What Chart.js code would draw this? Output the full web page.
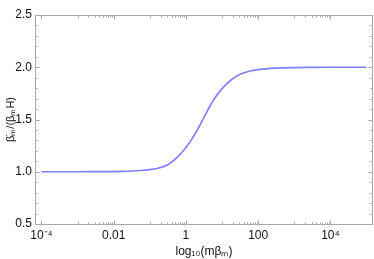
<!DOCTYPE html>
<html><head><meta charset="utf-8">
<script src="https://cdn.jsdelivr.net/npm/chart.js@4"></script>
<style>html,body{margin:0;padding:0;background:#fff}#wrap{width:374px;height:259px;position:relative}</style>
</head><body><div id="wrap"><canvas id="c"></canvas></div>
<script>
// x positions as log10(m beta_m)
const log10MBeta = [-4, -3.5, -3, -2.5, -2, -1.75, -1.5, -1.25, -1, -0.75, -0.5, -0.25, 0, 0.25, 0.5, 0.75, 1, 1.25, 1.5, 1.75, 2, 2.5, 3, 3.5, 4, 5];
// ratio betaDot_m / (beta_m H)
const ratio = [1.000, 1.000, 1.000, 1.001, 1.002, 1.004, 1.007, 1.012, 1.021, 1.036, 1.068, 1.135, 1.232, 1.36, 1.52, 1.68, 1.795, 1.878, 1.932, 1.962, 1.978, 1.992, 1.997, 1.999, 2.000, 2.000];
const xTickValues = [1e-4, 1e-2, 1, 100, 1e4];
const xTickLabels = ['10\u207B\u2074', '0.01', '1', '100', '10\u2074'];
const yTickValues = [0.5, 1.0, 1.5, 2.0, 2.5];
const yTickLabels = ['0.5', '1.0', '1.5', '2.0', '2.5'];
const xTitle = 'log\u2081\u2080(m\u03B2\u2098)';
const yTitle = '\u03B2\u0307\u2098/(\u03B2\u2098H)';

const FRAME = '#a8a8a8';
const FONT = 'Liberation Sans, Arial, sans-serif';

const points = log10MBeta.map((e, i) => ({x: Math.pow(10, e), y: ratio[i]}));

const frameTicks = {
  id: 'frameTicks',
  beforeDatasetsDraw(chart) {
    const {ctx, chartArea: a, scales: {x, y}} = chart;
    const L = Math.round(a.left) + 0.5, R = Math.round(a.right) - 0.5;
    const T = Math.round(a.top) + 0.5, B = Math.round(a.bottom) + 0.5;
    ctx.save();
    ctx.strokeStyle = FRAME;
    ctx.lineWidth = 1;
    ctx.beginPath();
    ctx.rect(L, T, R - L, B - T);
    ctx.stroke();
    const vline = (v, len) => {
      const p = Math.round(x.getPixelForValue(v)) + 0.5;
      if (p < L || p > R) return;
      ctx.moveTo(p, B); ctx.lineTo(p, B - len);
      ctx.moveTo(p, T); ctx.lineTo(p, T + len);
    };
    const hline = (v, len) => {
      const p = Math.round(y.getPixelForValue(v)) + 0.5;
      ctx.moveTo(L, p); ctx.lineTo(L + len, p);
      ctx.moveTo(R, p); ctx.lineTo(R - len, p);
    };
    ctx.beginPath();
    xTickValues.forEach(v => vline(v, 4));
    for (let k = 0; k < xTickValues.length - 1; k++) {
      const mid = Math.sqrt(xTickValues[k] * xTickValues[k + 1]);
      vline(mid, 2.5);
      for (let j = 2; j <= 9; j++) vline(j * mid, 2);
    }
    yTickValues.forEach(v => hline(v, 4));
    for (let k = 0; k < yTickValues.length - 1; k++) {
      for (let j = 1; j <= 4; j++) hline(yTickValues[k] + j * 0.1, 2);
    }
    ctx.stroke();
    ctx.restore();
  }
};

new Chart(document.getElementById('c'), {
  type: 'line',
  data: {
    datasets: [{
      data: points,
      borderColor: '#8080ff',
      borderWidth: 1.7,
      pointRadius: 0,
      fill: false,
      cubicInterpolationMode: 'monotone'
    }]
  },
  options: {
    responsive: true,
    maintainAspectRatio: false,
    animation: false,
    events: [],
    layout: {padding: {left: 0, right: 1, top: 15, bottom: 0}},
    plugins: {legend: {display: false}, tooltip: {enabled: false}},
    scales: {
      x: {
        type: 'logarithmic',
        min: Math.pow(10, -4.18),
        max: Math.pow(10, 5.18),
        grid: {display: false, drawTicks: false},
        border: {display: false},
        afterBuildTicks: s => { s.ticks = xTickValues.map(v => ({value: v})); },
        afterFit: s => { s.height = 35; },
        ticks: {
          autoSkip: false, maxRotation: 0, padding: 4, color: '#111',
          font: {family: FONT, size: 12},
          callback: (v, i) => xTickLabels[i]
        },
        title: {display: true, text: xTitle, color: '#111', font: {family: FONT, size: 12}, padding: {top: 0, bottom: 0}}
      },
      y: {
        type: 'linear',
        min: 0.5, max: 2.5,
        grid: {display: false, drawTicks: false},
        border: {display: false},
        afterBuildTicks: s => { s.ticks = yTickValues.map(v => ({value: v})); },
        afterFit: s => { s.width = 35; },
        ticks: {
          padding: 3, color: '#111',
          font: {family: FONT, size: 12},
          callback: (v, i) => yTickLabels[i]
        },
        title: {display: true, text: yTitle, color: '#111', font: {family: FONT, size: 11}, padding: {top: 4, bottom: 0}}
      }
    }
  },
  plugins: [frameTicks]
});
</script>
</body></html>
